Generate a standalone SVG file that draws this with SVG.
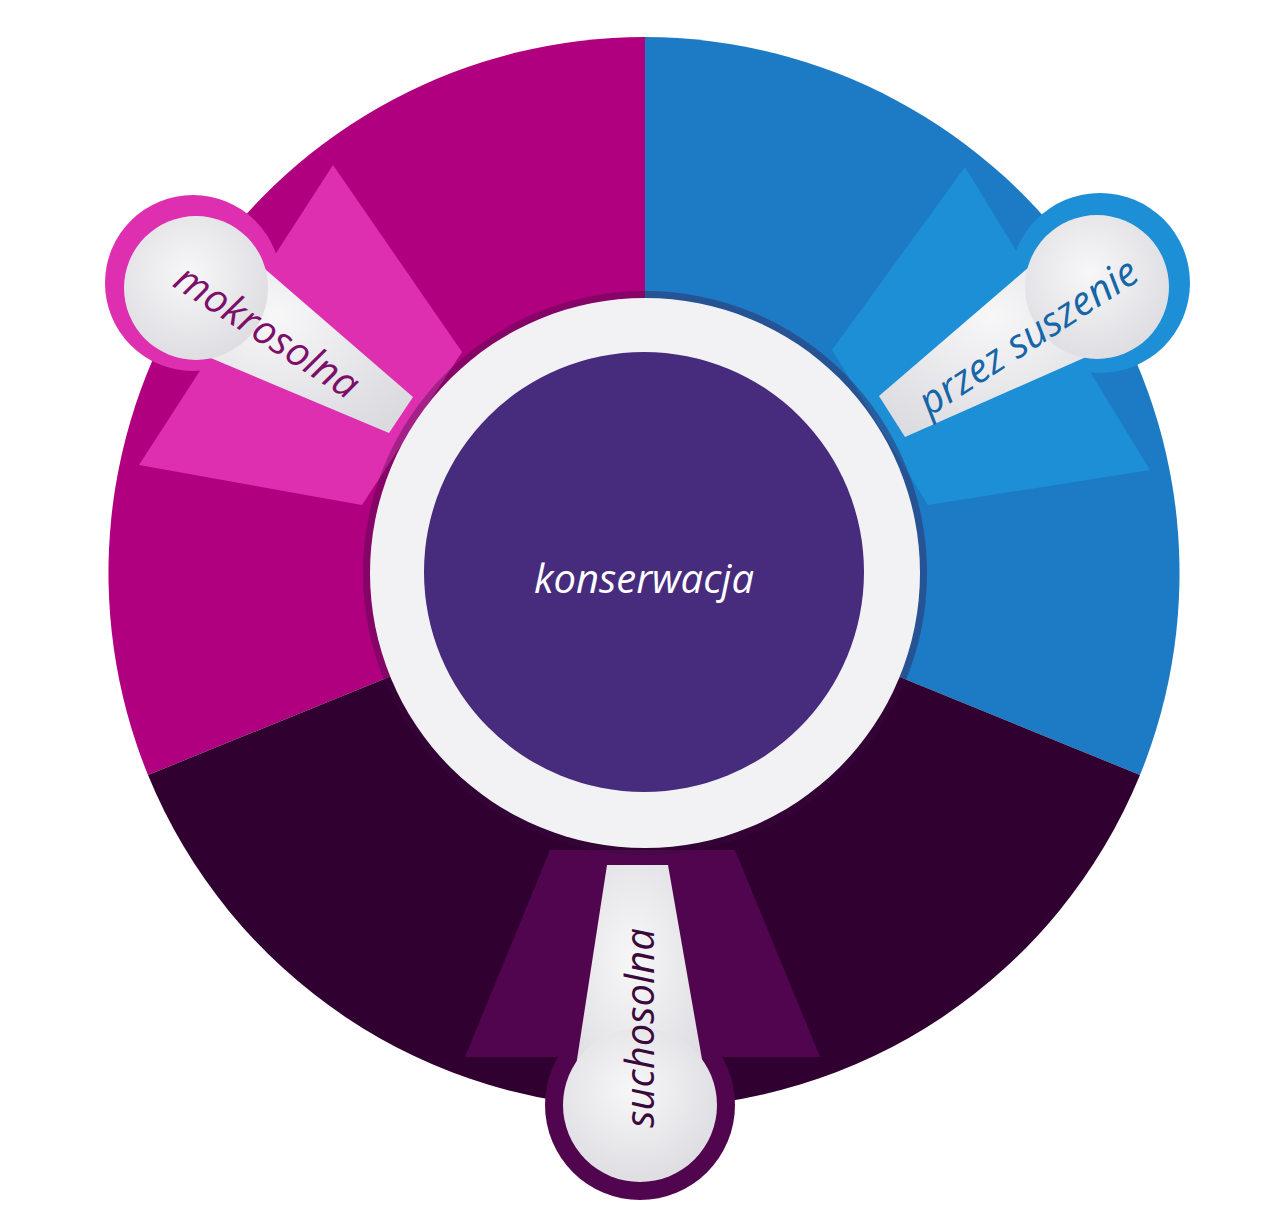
<svg xmlns="http://www.w3.org/2000/svg" width="1288" height="1229" viewBox="0 0 1288 1229">
<style>
.lbl{font-family:"Open Sans","DejaVu Sans",sans-serif;font-style:italic;font-size:40px;text-anchor:middle;dominant-baseline:central}
.w{fill:url(#wg)}
</style>
<defs>
<radialGradient id="wg" cx="0.45" cy="0.4" r="0.7"><stop offset="0" stop-color="#F7F7F8"/><stop offset="1" stop-color="#DADADF"/></radialGradient>
</defs>
<rect width="1288" height="1229" fill="#fff"/>
<g id="wheel">
<path d="M645,573 L645,37 A536,536 0 0 0 148,775 Z" fill="#B0007F"/>
<path d="M645,573 L645,37 A536,536 0 0 1 1140,775 Z" fill="#1C7BC4"/>
<path d="M645,573 L1140,775 A536,536 0 0 1 148,775 Z" fill="#2F0030"/>
<polygon points="333,165 462,352 362,505 139,465" fill="#DD2FB0"/>
<polygon points="965,167 1150,470 928,505 832,350" fill="#1D8FD6"/>
<polygon points="550,850 735,850 820,1057 465,1057" fill="#52054F"/>
<circle cx="645" cy="573" r="282" fill="#3A0A3D" opacity="0.35"/>
</g>
<g id="center">
<circle cx="645" cy="573" r="275" fill="#F2F2F4"/>
<circle cx="644" cy="572" r="220" fill="#472C7E"/>
<text class="lbl" x="644" y="577" fill="#fff">konserwacja</text>
</g>
<g id="mokrosolna">
<circle cx="193" cy="283" r="88" fill="#DD2FB0"/>
<polygon class="w" points="163,338 229,238 413,397 389,433"/>
<circle class="w" cx="196" cy="288" r="72"/>
<text class="lbl" transform="translate(268,330) rotate(33)" fill="#7B0F6A">mokrosolna</text>
</g>
<g id="przez-suszenie">
<circle cx="1100" cy="283" r="90" fill="#1D8FD6"/>
<polygon class="w" points="1129,338 1065,236 879,396 905,437"/>
<circle class="w" cx="1097" cy="287" r="72"/>
<text class="lbl" transform="translate(1027,335) rotate(-33)" fill="#1566A8">przez suszenie</text>
</g>
<g id="suchosolna">
<circle cx="640" cy="1105" r="95" fill="#52054F"/>
<polygon class="w" points="570,1105 710,1105 668,865 607,865"/>
<circle class="w" cx="640" cy="1105" r="77"/>
<text class="lbl" transform="translate(638,1028) rotate(-90)" fill="#3A0A3D">suchosolna</text>
</g>
<g id="connectors"/>
</svg>
